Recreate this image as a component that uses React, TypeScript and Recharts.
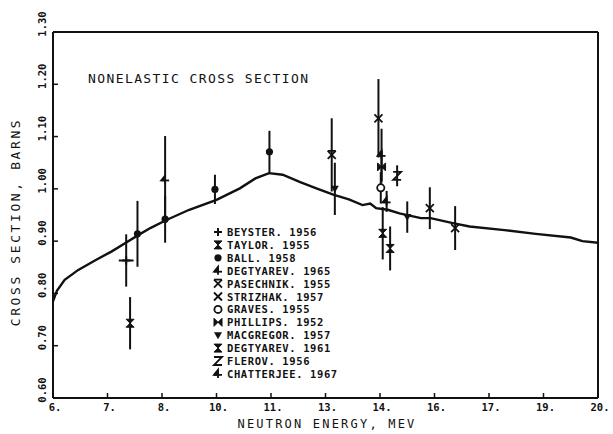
import { ComposedChart, Line, Scatter, ErrorBar, XAxis, YAxis } from 'recharts';

// nonelastic curve (evaluated), energy in axis units / cross section in barns
const curveEnergy = [6.0, 6.1, 6.3, 6.65, 7.1, 7.5, 7.85, 8.2, 8.5, 8.9, 9.5, 10.2, 10.8, 11.2, 11.55, 11.9, 12.35, 12.8, 13.2, 13.6, 13.95, 14.15, 14.3, 14.6, 14.9, 15.45, 15.7, 16.3, 16.7, 17.6, 18.4, 19.3, 19.6, 20.0];
const curveXS = [0.785, 0.805, 0.826, 0.845, 0.864, 0.88, 0.896, 0.912, 0.925, 0.94, 0.96, 0.979, 1.001, 1.02, 1.03, 1.027, 1.013, 1.0, 0.989, 0.98, 0.969, 0.972, 0.963, 0.96, 0.953, 0.944, 0.944, 0.934, 0.928, 0.921, 0.914, 0.907, 0.9, 0.897];

const xTicks = [6, 7.4, 8.8, 10.2, 11.6, 13, 14.4, 15.8, 17.2, 18.6, 20];
const xTickLabels = ['6.', '7.', '8.', '10.', '11.', '13.', '14.', '16.', '17.', '19.', '20.'];
const yTicks = [0.6, 0.7, 0.8, 0.9, 1.0, 1.1, 1.2, 1.3];
const yTickLabels = ['0.60', '0.70', '0.80', '0.90', '1.00', '1.10', '1.20', '1.30'];

// measurements
const beysterE = [7.88];
const beysterXS = [0.863];
const beysterErr = [0.05];
const beysterEErr = [0.19];

const taylorE = [7.98];
const taylorXS = [0.743];
const taylorErr = [0.05];

const ballE = [8.17, 8.88, 10.16, 11.56];
const ballXS = [0.914, 0.942, 0.999, 1.071];
const ballErr = [0.063, 0.045, 0.028, 0.04];

const degtyarev65E = [8.88, 14.44];
const degtyarev65XS = [1.018, 1.065];
const degtyarev65Err = [0.083, 0.05];

const pasechnikE = [13.16];
const pasechnikXS = [1.065];
const pasechnikErr = [0.07];

const strizhakE = [14.36, 15.68, 16.33];
const strizhakXS = [1.135, 0.963, 0.925];
const strizhakErr = [0.075, 0.04, 0.042];

const gravesE = [14.42];
const gravesXS = [1.002];
const gravesErr = [0.03];

const phillipsE = [14.44];
const phillipsXS = [1.042];
const phillipsErr = [0.03];

const macgregorE = [13.24, 15.1];
const macgregorXS = [1.0, 0.946];
const macgregorErr = [0.05, 0.03];

const degtyarev61E = [14.47, 14.66];
const degtyarev61XS = [0.915, 0.886];
const degtyarev61Err = [0.05, 0.042];

const flerovE = [14.84];
const flerovXS = [1.025];
const flerovErr = [0.02];

const chatterjeeE = [14.57];
const chatterjeeXS = [0.976];
const chatterjeeErr = [0.02];

const legendNames = [
  'BEYSTER. 1956',
  'TAYLOR. 1955',
  'BALL. 1958',
  'DEGTYAREV. 1965',
  'PASECHNIK. 1955',
  'STRIZHAK. 1957',
  'GRAVES. 1955',
  'PHILLIPS. 1952',
  'MACGREGOR. 1957',
  'DEGTYAREV. 1961',
  'FLEROV. 1956',
  'CHATTERJEE. 1967',
];
const legendMarkers = ['plus', 'hourglass', 'dot', 'four', 'hourglassOpen', 'cross', 'ring', 'bowtie', 'tri', 'hourglass', 'zed', 'four'];

const INK = '#111';
const FONT = '"DejaVu Sans Mono", monospace';

const rows = (e: number[], xs: number[], err: number[], eErr?: number[]) =>
  e.map((x, i) => ({ x, y: xs[i], ey: err[i], ex: eErr ? eErr[i] : 0 }));

const curveRows = curveEnergy.map((x, i) => ({ x, y: curveXS[i] }));

function Marker({ kind, cx, cy }: { kind: string; cx: number; cy: number }) {
  const s = 4;
  switch (kind) {
    case 'plus':
      return (
        <g stroke={INK} strokeWidth={2}>
          <line x1={cx - s} x2={cx + s} y1={cy} y2={cy} />
          <line x1={cx} x2={cx} y1={cy - s} y2={cy + s} />
        </g>
      );
    case 'hourglass':
      return <path d={`M${cx - s},${cy - s}L${cx + s},${cy - s}L${cx - s},${cy + s}L${cx + s},${cy + s}Z`} fill={INK} stroke={INK} strokeWidth={1} />;
    case 'hourglassOpen':
      return (
        <g stroke={INK} strokeWidth={1.8}>
          <line x1={cx - s} x2={cx + s} y1={cy - s} y2={cy + s} />
          <line x1={cx + s} x2={cx - s} y1={cy - s} y2={cy + s} />
          <line x1={cx - s} x2={cx + s} y1={cy - s} y2={cy - s} />
        </g>
      );
    case 'cross':
      return (
        <g stroke={INK} strokeWidth={1.8}>
          <line x1={cx - s} x2={cx + s} y1={cy - s} y2={cy + s} />
          <line x1={cx + s} x2={cx - s} y1={cy - s} y2={cy + s} />
        </g>
      );
    case 'dot':
      return <circle cx={cx} cy={cy} r={3.6} fill={INK} />;
    case 'ring':
      return <circle cx={cx} cy={cy} r={3.6} fill="#fff" stroke={INK} strokeWidth={1.8} />;
    case 'bowtie':
      return <path d={`M${cx - s},${cy - s}L${cx - s},${cy + s}L${cx + s},${cy - s}L${cx + s},${cy + s}Z`} fill={INK} stroke={INK} strokeWidth={1} />;
    case 'tri':
      return <path d={`M${cx - s},${cy - 3}L${cx + s},${cy - 3}L${cx},${cy + s}Z`} fill={INK} />;
    case 'zed':
      return <path d={`M${cx - s},${cy - s}L${cx + s},${cy - s}L${cx - s},${cy + s}L${cx + s},${cy + s}`} fill="none" stroke={INK} strokeWidth={1.8} />;
    case 'four':
      return (
        <g stroke={INK} strokeWidth={1.8}>
          <path d={`M${cx - s},${cy + 1}L${cx},${cy - s}L${cx},${cy + 1}Z`} fill={INK} />
          <line x1={cx - s} x2={cx + s} y1={cy + 1} y2={cy + 1} />
          <line x1={cx} x2={cx} y1={cy - s} y2={cy + s} />
        </g>
      );
    default:
      return null;
  }
}

const shapeOf = (kind: string) => (p: any) => <Marker kind={kind} cx={p.cx} cy={p.cy} />;

const series = [
  { kind: 'plus', data: rows(beysterE, beysterXS, beysterErr, beysterEErr), xErr: true },
  { kind: 'hourglass', data: rows(taylorE, taylorXS, taylorErr) },
  { kind: 'dot', data: rows(ballE, ballXS, ballErr) },
  { kind: 'four', data: rows(degtyarev65E, degtyarev65XS, degtyarev65Err) },
  { kind: 'hourglassOpen', data: rows(pasechnikE, pasechnikXS, pasechnikErr) },
  { kind: 'cross', data: rows(strizhakE, strizhakXS, strizhakErr) },
  { kind: 'ring', data: rows(gravesE, gravesXS, gravesErr) },
  { kind: 'bowtie', data: rows(phillipsE, phillipsXS, phillipsErr) },
  { kind: 'tri', data: rows(macgregorE, macgregorXS, macgregorErr) },
  { kind: 'hourglass', data: rows(degtyarev61E, degtyarev61XS, degtyarev61Err) },
  { kind: 'zed', data: rows(flerovE, flerovXS, flerovErr) },
  { kind: 'four', data: rows(chatterjeeE, chatterjeeXS, chatterjeeErr) },
];

const BottomTick = (p: any) => (
  <g>
    <line x1={p.x} x2={p.x} y1={p.y} y2={p.y - 5} stroke={INK} strokeWidth={1.5} />
    <text x={p.x + 2} y={p.y + 13} textAnchor="middle" fontFamily={FONT} fontSize={10.5} fontWeight="bold" fill={INK}>
      {xTickLabels[p.index]}
    </text>
  </g>
);

const TopTick = (p: any) => <line x1={p.x} x2={p.x} y1={p.y} y2={p.y + 5} stroke={INK} strokeWidth={1.5} />;

const LeftTick = (p: any) => {
  const tx = p.x - 11;
  const ty = p.y - 8;
  return (
    <g>
      <line x1={p.x} x2={p.x + 5} y1={p.y} y2={p.y} stroke={INK} strokeWidth={1.5} />
      <text x={tx} y={ty} transform={`rotate(-90, ${tx}, ${ty})`} textAnchor="middle" dominantBaseline="central" fontFamily={FONT} fontSize={10.5} fontWeight="bold" fill={INK}>
        {yTickLabels[p.index]}
      </text>
    </g>
  );
};

const RightTick = (p: any) => <line x1={p.x} x2={p.x - 5} y1={p.y} y2={p.y} stroke={INK} strokeWidth={1.5} />;

export default function App() {
  return (
    <div style={{ position: 'absolute', left: 0, top: 0, width: 613, height: 434, background: '#fff' }}>
      <ComposedChart width={613} height={434} margin={{ top: 31, right: 14, bottom: 0, left: 13 }}>
        <XAxis dataKey="x" type="number" domain={[6, 20]} ticks={xTicks} height={36} tickSize={0} tickMargin={0} tick={BottomTick} axisLine={{ stroke: INK, strokeWidth: 2 }} allowDataOverflow />
        <XAxis xAxisId="top" orientation="top" dataKey="x" type="number" domain={[6, 20]} ticks={xTicks} height={1} tickSize={0} tickMargin={0} tick={TopTick} axisLine={{ stroke: INK, strokeWidth: 2 }} />
        <YAxis type="number" domain={[0.6, 1.3]} ticks={yTicks} width={40} tickSize={0} tickMargin={0} tick={LeftTick} axisLine={{ stroke: INK, strokeWidth: 2 }} allowDataOverflow />
        <YAxis yAxisId="right" orientation="right" type="number" domain={[0.6, 1.3]} ticks={yTicks} width={1} tickSize={0} tickMargin={0} tick={RightTick} axisLine={{ stroke: INK, strokeWidth: 2 }} />
        <Line data={curveRows} dataKey="y" type="linear" dot={false} stroke={INK} strokeWidth={2.4} isAnimationActive={false} />
        {series.map((s, i) => (
          <Scatter key={i} data={s.data} dataKey="y" shape={shapeOf(s.kind)} isAnimationActive={false}>
            <ErrorBar dataKey="ey" direction="y" width={0} stroke={INK} strokeWidth={2} />
            {s.xErr ? <ErrorBar dataKey="ex" direction="x" width={0} stroke={INK} strokeWidth={2} /> : null}
          </Scatter>
        ))}
      </ComposedChart>
      <svg width={613} height={434} style={{ position: 'absolute', left: 0, top: 0, pointerEvents: 'none' }}>
        <text x={88} y={83} fontFamily={FONT} fontSize={13} letterSpacing={1.4} fill={INK}>
          NONELASTIC CROSS SECTION
        </text>
        <text x={327} y={428} textAnchor="middle" fontFamily={FONT} fontSize={12} letterSpacing={2.2} fill={INK}>
          NEUTRON ENERGY, MEV
        </text>
        <text x={15} y={222} transform="rotate(-90, 15, 222)" textAnchor="middle" dominantBaseline="central" fontFamily={FONT} fontSize={13} letterSpacing={2.6} fill={INK}>
          CROSS SECTION, BARNS
        </text>
        {legendNames.map((name, i) => {
          const y = 232 + i * 12.9;
          return (
            <g key={name}>
              <Marker kind={legendMarkers[i]} cx={218} cy={y} />
              <text x={227} y={y + 4} fontFamily={FONT} fontSize={10.5} fontWeight="bold" letterSpacing={0.6} fill={INK}>
                {name}
              </text>
            </g>
          );
        })}
      </svg>
    </div>
  );
}
